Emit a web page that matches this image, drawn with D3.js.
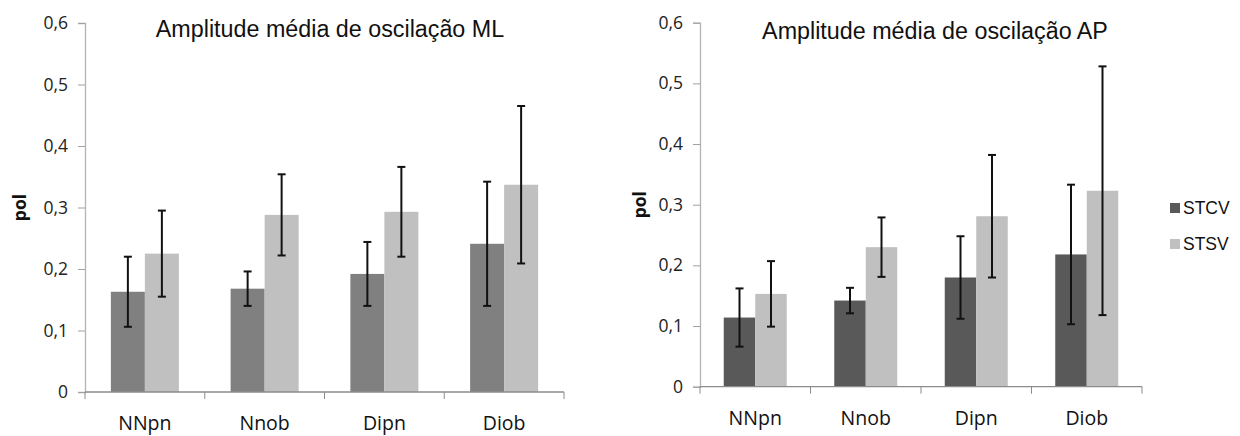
<!DOCTYPE html>
<html lang="pt">
<head>
<meta charset="utf-8">
<title>Amplitude média de oscilação</title>
<script src="https://cdn.jsdelivr.net/npm/d3@7"></script>
<style>
  body { margin: 0; background: #fff; }
  svg { display: block; }
  .tick text { font-family: "Open Sans", sans-serif; fill: #222; }
</style>
</head>
<body>
<script>
// categorias e séries
var categorias = ["NNpn", "Nnob", "Dipn", "Diob"];
var series = ["STCV", "STSV"];
var yTicks = [0, 0.1, 0.2, 0.3, 0.4, 0.5, 0.6];

// ML: médias e desvios
var mlSTCV = [0.163, 0.168, 0.192, 0.241];
var mlSTCVsd = [0.057, 0.028, 0.052, 0.101];
var mlSTSV = [0.225, 0.288, 0.293, 0.337];
var mlSTSVsd = [0.070, 0.066, 0.073, 0.128];

// AP: médias e desvios
var apSTCV = [0.114, 0.142, 0.180, 0.218];
var apSTCVsd = [0.048, 0.021, 0.068, 0.115];
var apSTSV = [0.153, 0.230, 0.281, 0.323];
var apSTSVsd = [0.054, 0.049, 0.101, 0.205];

var w = 1240, h = 436;
var svg = d3.select("body").append("svg").attr("width", w).attr("height", h);

function grafico(opts) {
  var x = d3.scaleBand().domain(categorias).range([opts.x0, opts.x1]).paddingInner(0).paddingOuter(0);
  var y = d3.scaleLinear().domain([0, 0.6]).range([opts.y0, opts.y1]);
  var groupW = opts.barW * 2;
  var xs = d3.scaleBand().domain(series).range([0, groupW]);

  var g = svg.append("g");

  // eixo y
  var yaxis = d3.axisLeft(y).tickValues(yTicks).tickSize(7).tickPadding(10)
      .tickFormat(function(d) { return d === 0 ? "0" : d3.format(".1f")(d).replace(".", ","); });
  var gy = g.append("g").attr("transform", "translate(" + opts.x0 + ",0)").call(yaxis);
  gy.select(".domain").attr("stroke", "#b3b3b3").attr("stroke-width", 1.3);
  gy.selectAll(".tick line").attr("stroke", "#a0a0a0");
  gy.selectAll(".tick text").attr("font-size", 17.5);

  // barras
  var dados = categorias.map(function(c, i) {
    return [
      { s: "STCV", v: opts.a[i], sd: opts.asd[i], cat: c },
      { s: "STSV", v: opts.b[i], sd: opts.bsd[i], cat: c }
    ];
  });
  var grupos = g.selectAll(".grupo").data(dados).enter().append("g")
      .attr("transform", function(d) {
        return "translate(" + (x(d[0].cat) + (x.bandwidth() - groupW) / 2) + ",0)";
      });
  grupos.selectAll("rect").data(function(d) { return d; }).enter().append("rect")
      .attr("x", function(d) { return xs(d.s); })
      .attr("width", xs.bandwidth())
      .attr("y", function(d) { return y(d.v); })
      .attr("height", function(d) { return y(0) - y(d.v); })
      .attr("fill", function(d) { return d.s === "STCV" ? opts.dark : "#c0c0c0"; });

  // barras de erro
  var err = grupos.selectAll(".err").data(function(d) { return d; }).enter().append("g")
      .attr("stroke", "#111").attr("stroke-width", 2);
  var cx = function(d) { return xs(d.s) + xs.bandwidth() / 2; };
  err.append("line")
      .attr("x1", cx).attr("x2", cx)
      .attr("y1", function(d) { return y(d.v + d.sd); })
      .attr("y2", function(d) { return y(d.v - d.sd); });
  err.append("line")
      .attr("x1", function(d) { return cx(d) - 4; }).attr("x2", function(d) { return cx(d) + 4; })
      .attr("y1", function(d) { return y(d.v + d.sd); }).attr("y2", function(d) { return y(d.v + d.sd); });
  err.append("line")
      .attr("x1", function(d) { return cx(d) - 4; }).attr("x2", function(d) { return cx(d) + 4; })
      .attr("y1", function(d) { return y(d.v - d.sd); }).attr("y2", function(d) { return y(d.v - d.sd); });

  // eixo x
  var gx = g.append("g").attr("transform", "translate(0," + opts.y0 + ")");
  gx.append("line").attr("x1", opts.x0).attr("x2", opts.x1).attr("stroke", "#8c8c8c").attr("stroke-width", 1.3);
  var bordas = categorias.map(function(c) { return x(c); }).concat([opts.x1]);
  gx.selectAll(".tk").data(bordas).enter().append("line")
      .attr("x1", function(d) { return d; }).attr("x2", function(d) { return d; })
      .attr("y1", 0).attr("y2", 7).attr("stroke", "#8c8c8c");
  gx.selectAll(".lbl").data(categorias).enter().append("text")
      .attr("x", function(d) { return x(d) + x.bandwidth() / 2; })
      .attr("y", 38)
      .attr("text-anchor", "middle")
      .attr("font-family", "Open Sans, sans-serif")
      .attr("font-size", 19.5)
      .attr("fill", "#111")
      .text(function(d) { return d; });

  // título
  g.append("text")
      .attr("x", opts.tx).attr("y", opts.ty)
      .attr("text-anchor", "middle")
      .attr("font-family", "Liberation Sans, Arial, sans-serif")
      .attr("font-size", 23.3)
      .attr("fill", "#111")
      .text(opts.titulo);

  // rótulo do eixo y
  g.append("text")
      .attr("transform", "translate(" + opts.px + "," + ((opts.y0 + opts.y1) / 2) + ") rotate(-90)")
      .attr("text-anchor", "middle")
      .attr("dy", "0.35em")
      .attr("font-family", "Open Sans, sans-serif")
      .attr("font-weight", "bold")
      .attr("font-size", 17.5)
      .attr("fill", "#111")
      .text("pol");
}

grafico({ x0: 85, x1: 564, y0: 392, y1: 23, barW: 34, dark: "#808080",
  a: mlSTCV, asd: mlSTCVsd, b: mlSTSV, bsd: mlSTSVsd,
  titulo: "Amplitude média de oscilação ML", tx: 330, ty: 37, px: 20 });

grafico({ x0: 700, x1: 1142, y0: 386.7, y1: 22.7, barW: 31.5, dark: "#595959",
  a: apSTCV, asd: apSTCVsd, b: apSTSV, bsd: apSTSVsd,
  titulo: "Amplitude média de oscilação AP", tx: 935, ty: 39, px: 640 });

// legenda
var legY = d3.scaleBand().domain(series).range([190, 262]);
var leg = svg.append("g").selectAll("g").data(series).enter().append("g")
    .attr("transform", function(d) { return "translate(1170," + (legY(d) + legY.bandwidth() / 2) + ")"; });
leg.append("rect").attr("x", 0).attr("y", -5).attr("width", 10).attr("height", 10)
    .attr("fill", function(d) { return d === "STCV" ? "#595959" : "#c0c0c0"; });
leg.append("text").attr("x", 13).attr("dy", "0.36em")
    .attr("font-family", "Liberation Sans, Arial, sans-serif")
    .attr("font-size", 17.5).attr("fill", "#111")
    .text(function(d) { return d; });
</script>
</body>
</html>
